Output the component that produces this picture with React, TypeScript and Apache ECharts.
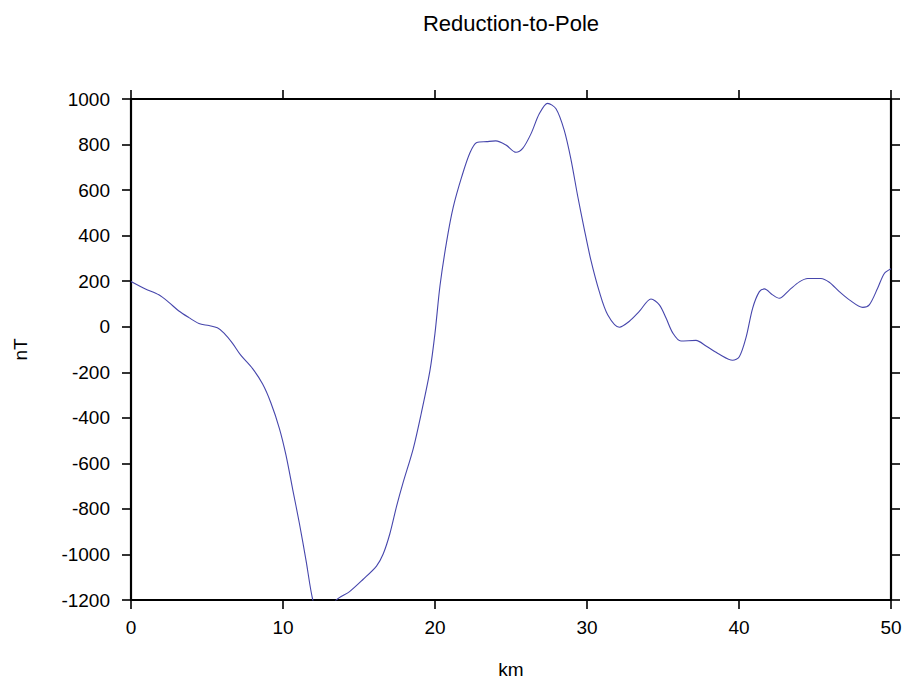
import React, { useEffect, useRef } from "react";
import * as echarts from "echarts";

const TITLE = "Reduction-to-Pole";
const X_NAME = "km";
const Y_NAME = "nT";

const kmValues = [
  0, 0.95, 1.83, 2.49, 3.15, 3.81, 4.47, 5.13, 5.68, 6.12, 6.67, 7.22, 8.0, 8.66, 9.2, 9.76,
  10.2, 10.64, 11.08, 11.52, 11.96, 12.4, 12.8, 13.2, 13.5, 14.38, 15.26, 16.15, 16.59, 17.03,
  17.47, 17.9, 18.57, 19.1, 19.67, 20.0, 20.33, 20.77, 21.2, 21.76, 22.3, 22.75, 23.41, 24.0,
  24.67, 25.33, 25.77, 26.32, 26.86, 27.41, 27.96, 28.5, 28.95, 29.39, 29.82, 30.26, 30.81,
  31.36, 32.13, 32.79, 33.44, 34.21, 34.76, 35.2, 35.64, 36.18, 37.17, 37.83, 38.71, 39.58,
  40.02, 40.46, 40.9, 41.34, 41.67, 42.21, 42.65, 43.31, 43.97, 44.52, 45.39, 45.94, 46.6,
  47.26, 48.14, 48.57, 49.12, 49.56, 50.0,
];

const nTValues = [
  199, 166, 140, 107, 69, 40, 14, 5, -5, -28, -72, -125, -184, -252, -334, -446,
  -565, -715, -864, -1028, -1200, -1275, -1290, -1255, -1200, -1163, -1110, -1051, -998, -909,
  -789, -685, -535, -379, -192, -28, 181, 376, 525, 659, 764, 809, 813, 816,
  798, 766, 783, 848, 935, 981, 957, 863, 733, 573, 429, 291, 154,
  53, -2, 24, 67, 122, 96, 38, -27, -63, -60, -85, -121, -147,
  -132, -48, 82, 154, 166, 140, 125, 161, 197, 212, 212, 195, 154,
  118, 85, 96, 169, 234, 255,
];

const X_MIN = 0;
const X_MAX = 50;
const X_STEP = 10;
const Y_MIN = -1200;
const Y_MAX = 1000;
const Y_STEP = 200;

export default function App() {
  const ref = useRef<HTMLDivElement>(null);

  useEffect(() => {
    if (!ref.current) return;
    const chart = echarts.init(ref.current, undefined, { renderer: "svg" });
    const font = "'Liberation Sans', Arial, Helvetica, sans-serif";
    const axisLine = { show: true, onZero: false, lineStyle: { color: "#000", width: 2.2 } };
    const axisTick = { show: true, inside: false, length: 9, lineStyle: { color: "#000", width: 1.6 } };
    const fmt = (v: number) => String(v);
    const data = kmValues.map((k, i) => [k, nTValues[i]]);
    chart.setOption({
      animation: false,
      backgroundColor: "#fff",
      title: {
        text: TITLE,
        left: 511,
        top: 12,
        padding: 0,
        textAlign: "center",
        textStyle: { fontFamily: font, fontSize: 22, fontWeight: "normal", color: "#000" },
      },
      grid: { left: 131, right: 16, top: 99, bottom: 79, containLabel: false },
      xAxis: [
        {
          type: "value",
          min: X_MIN,
          max: X_MAX,
          interval: X_STEP,
          position: "bottom",
          name: X_NAME,
          nameLocation: "middle",
          nameGap: 60,
          nameTextStyle: { fontFamily: font, fontSize: 19, color: "#000" },
          axisLine,
          axisTick,
          axisLabel: { fontFamily: font, fontSize: 19, color: "#000", margin: 18, formatter: fmt },
          splitLine: { show: false },
        },
        {
          type: "value",
          min: X_MIN,
          max: X_MAX,
          interval: X_STEP,
          position: "top",
          axisLine,
          axisTick,
          axisLabel: { show: false },
          splitLine: { show: false },
        },
      ],
      yAxis: [
        {
          type: "value",
          min: Y_MIN,
          max: Y_MAX,
          interval: Y_STEP,
          position: "left",
          name: Y_NAME,
          nameLocation: "middle",
          nameGap: 101,
          nameRotate: 90,
          nameTextStyle: { fontFamily: font, fontSize: 19, color: "#000" },
          axisLine,
          axisTick,
          axisLabel: { fontFamily: font, fontSize: 19, color: "#000", margin: 21, formatter: fmt },
          splitLine: { show: false },
        },
        {
          type: "value",
          min: Y_MIN,
          max: Y_MAX,
          interval: Y_STEP,
          position: "right",
          axisLine,
          axisTick,
          axisLabel: { show: false },
          splitLine: { show: false },
        },
      ],
      series: [
        {
          type: "line",
          data,
          xAxisIndex: 0,
          yAxisIndex: 0,
          smooth: 0.3,
          showSymbol: false,
          clip: true,
          lineStyle: { color: "#4646ac", width: 1.1 },
        },
      ],
    });
    return () => chart.dispose();
  }, []);

  return (
    <div
      ref={ref}
      style={{ position: "absolute", left: 0, top: 0, width: 907, height: 684 }}
    />
  );
}
